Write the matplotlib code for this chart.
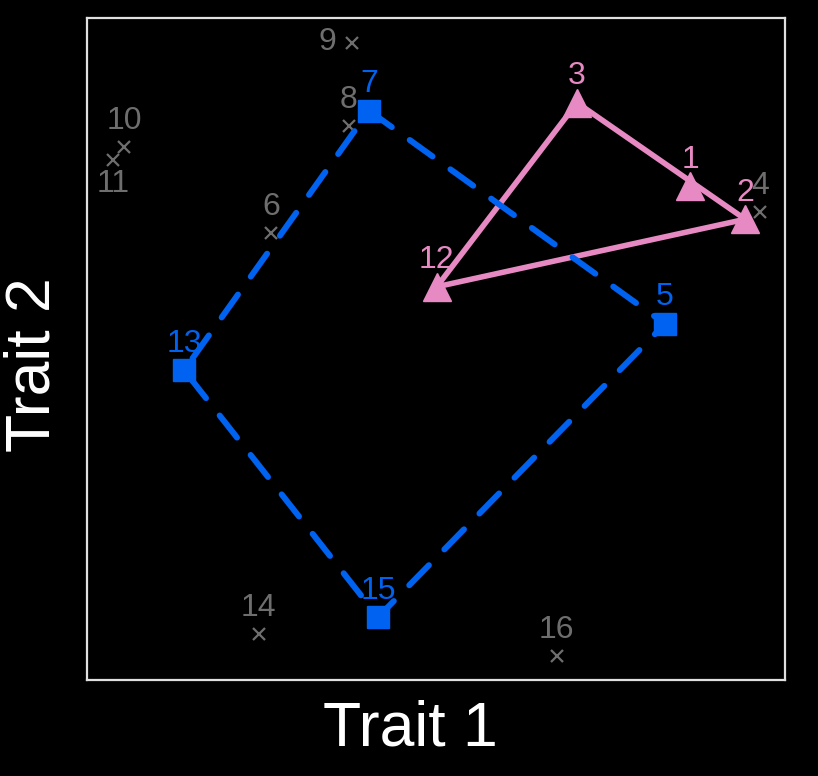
import matplotlib
matplotlib.use("Agg")
import matplotlib.pyplot as plt

# point ids and coordinates
ids = [str(i) for i in range(1, 17)]
xs = [8.64, 9.43, 7.02, 9.64, 8.28, 2.64, 4.04, 3.75, 3.80, 0.53, 0.37, 5.01, 1.39, 2.46, 4.17, 6.73]
ys = [7.46, 6.96, 8.72, 7.07, 5.38, 6.75, 8.60, 8.37, 9.62, 8.05, 7.85, 5.94, 4.68, 0.69, 0.95, 0.36]
group_a = [1, 2, 3, 12]          # pink triangles
group_b = [5, 7, 13, 15]         # blue squares
hull_a = [3, 2, 12, 3]
hull_b = [7, 5, 15, 13, 7]

PINK = "#E78AC3"
BLUE = "#0062F0"
GREY = "#6E6E6E"

plt.rcParams['font.family'] = ['Liberation Sans', 'DejaVu Sans']
fig = plt.figure(figsize=(8.18, 7.76), dpi=100, facecolor="black")
ax = fig.add_axes([0.1064, 0.1237, 0.8533, 0.8531], facecolor="black")
ax.set_xlim(0, 10)
ax.set_ylim(0, 10)
ax.set_xticks([])
ax.set_yticks([])
for s in ax.spines.values():
    s.set_color("#E0E0E0")
    s.set_linewidth(1.6)

def col(i):
    if i in group_a:
        return PINK
    if i in group_b:
        return BLUE
    return GREY

# labels
offsets = {9: (-18, 1), 11: (0, -17)}
for i in range(1, 17):
    dx, dy = offsets.get(i, (0, 19))
    ax.annotate(ids[i - 1], (xs[i - 1], ys[i - 1]), xytext=(dx, dy),
                textcoords="offset points", ha="center", va="center",
                fontsize=23, color=col(i), zorder=1)

# other points
others = [i for i in range(1, 17) if i not in group_a and i not in group_b]
ax.plot([xs[i - 1] for i in others], [ys[i - 1] for i in others], ls="none",
        marker="x", ms=9, mew=1.6, color=GREY, zorder=2)

# hulls
ax.plot([xs[i - 1] for i in hull_a], [ys[i - 1] for i in hull_a], color=PINK,
        lw=4.0, solid_joinstyle="miter", zorder=3)
ax.plot([xs[i - 1] for i in hull_b], [ys[i - 1] for i in hull_b], color=BLUE,
        lw=4.3, ls=(0, (4.7, 3.7)), dash_capstyle="round", zorder=4)

ax.plot([xs[i - 1] for i in group_a], [ys[i - 1] for i in group_a], ls="none",
        marker="^", ms=20, color=PINK, zorder=5)
ax.plot([xs[i - 1] for i in group_b], [ys[i - 1] for i in group_b], ls="none",
        marker="s", ms=16, color=BLUE, zorder=5)

fig.text(0.502, 0.060, "Trait 1", ha="center", va="center", color="white", fontsize=45)
fig.text(0.040, 0.530, "Trait 2", ha="center", va="center", color="white",
         fontsize=45, rotation=90)

fig.savefig("out.png", facecolor="black")
